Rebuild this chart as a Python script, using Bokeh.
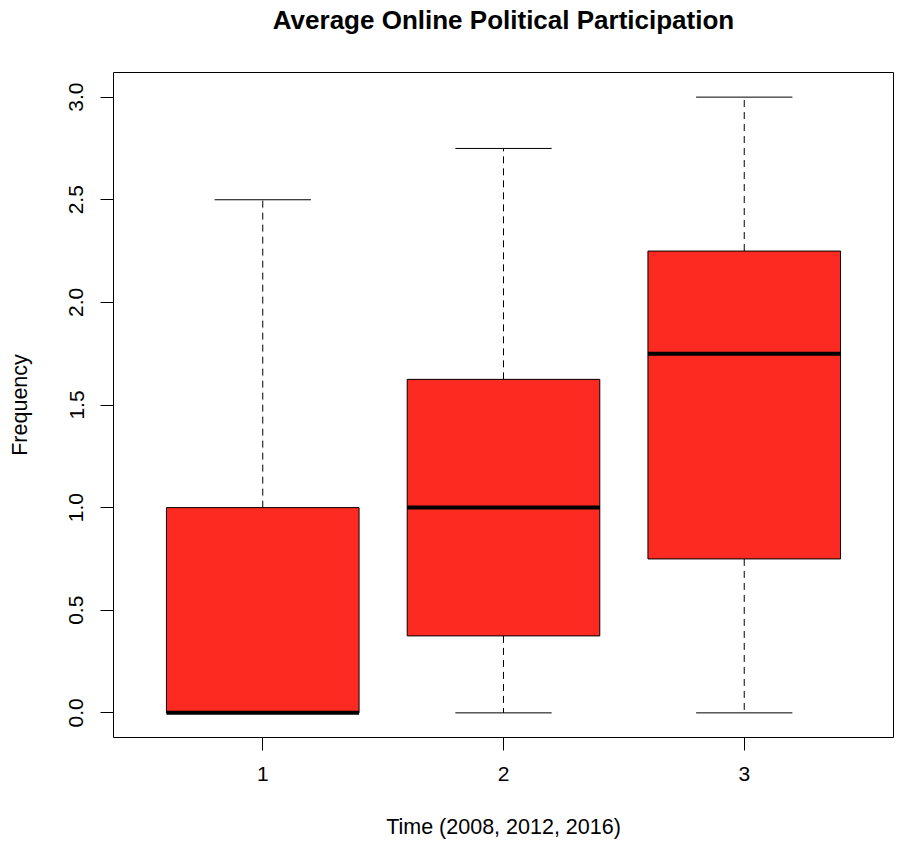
from bokeh.plotting import figure
from bokeh.models import ColumnDataSource, FixedTicker, Range1d
from bokeh.embed import file_html
from bokeh.resources import INLINE

# Data
groups = [1, 2, 3]
tick_labels = ["1", "2", "3"]
lower_whisker = [0.0, 0.0, 0.0]
q1 = [0.0, 0.375, 0.75]
median = [0.0, 1.0, 1.75]
q3 = [1.0, 1.625, 2.25]
upper_whisker = [2.5, 2.75, 3.0]

BOX_W = 0.8
CAP_W = 0.4
FILL = "#FC2A20"
FONT = "Liberation Sans"

src = ColumnDataSource(dict(
    x=groups, lw=lower_whisker, q1=q1, med=median, q3=q3, uw=upper_whisker,
    x0=[g - CAP_W / 2 for g in groups], x1=[g + CAP_W / 2 for g in groups],
    m0=[g - BOX_W / 2 for g in groups], m1=[g + BOX_W / 2 for g in groups],
))

ymax = max(upper_whisker)
ymin = min(lower_whisker)
pad = 0.04 * (ymax - ymin)
xpad = 0.04 * len(groups)

p = figure(width=901, height=845, output_backend="svg", toolbar_location=None,
           x_range=Range1d(0.5 - xpad, len(groups) + 0.5 + xpad),
           y_range=Range1d(ymin - pad, ymax + pad),
           min_border_left=113, min_border_right=8, min_border_top=72,
           min_border_bottom=108)

p.title.text = "Average Online Political Participation"
p.title.align = "center"
p.title.vertical_align = "top"
p.title.text_font = FONT
p.title.text_font_size = "26px"
p.title.text_font_style = "bold"
p.title.text_color = "black"
p.title.standoff = 0
p.title.padding = dict(left=0, right=0, top=0, bottom=36)

p.outline_line_color = "black"
p.outline_line_width = 1
p.outline_line_alpha = 1
p.xgrid.visible = False
p.ygrid.visible = False
p.background_fill_color = "white"
p.border_fill_color = "white"

# whiskers (dashed)
p.segment(x0="x", y0="q3", x1="x", y1="uw", source=src, line_color="black",
          line_width=1, line_dash="7 5")
p.segment(x0="x", y0="q1", x1="x", y1="lw", source=src, line_color="black",
          line_width=1, line_dash="7 5")
# caps
p.segment(x0="x0", y0="uw", x1="x1", y1="uw", source=src, line_color="black", line_width=1)
p.segment(x0="x0", y0="lw", x1="x1", y1="lw", source=src, line_color="black", line_width=1)
# boxes
p.vbar(x="x", width=BOX_W, bottom="q1", top="q3", source=src, fill_color=FILL,
       line_color="black", line_width=1)
# medians
p.segment(x0="m0", y0="med", x1="m1", y1="med", source=src, line_color="black",
          line_width=4, line_cap="butt")

# axes
xax = p.below[0]
yax = p.left[0]
xax.ticker = FixedTicker(ticks=groups)
xax.major_label_overrides = {g: t for g, t in zip(groups, tick_labels)}
xax.bounds = (min(groups), max(groups))
xax.axis_label = "Time (2008, 2012, 2016)"
yax.ticker = FixedTicker(ticks=[0.0, 0.5, 1.0, 1.5, 2.0, 2.5, 3.0])
yax.major_label_overrides = {0.0: "0.0", 0.5: "0.5", 1.0: "1.0", 1.5: "1.5",
                             2.0: "2.0", 2.5: "2.5", 3.0: "3.0"}
yax.bounds = (0.0, 3.0)
yax.axis_label = "Frequency"
yax.major_label_orientation = "vertical"

for ax in (xax, yax):
    ax.minor_tick_line_color = None
    ax.major_tick_out = 13
    ax.major_tick_in = 0
    ax.major_tick_line_color = "black"
    ax.axis_line_color = "black"
    ax.major_label_text_font = FONT
    ax.major_label_text_font_size = "21px"
    ax.major_label_text_color = "black"
    ax.axis_label_text_font = FONT
    ax.axis_label_text_font_size = "21.5px"
    ax.axis_label_text_font_style = "normal"
    ax.axis_label_text_color = "black"

xax.major_label_standoff = 16
xax.axis_label_standoff = 31
yax.major_label_standoff = 17
yax.axis_label_standoff = 35

open("out.html", "w").write(file_html(p, INLINE))
